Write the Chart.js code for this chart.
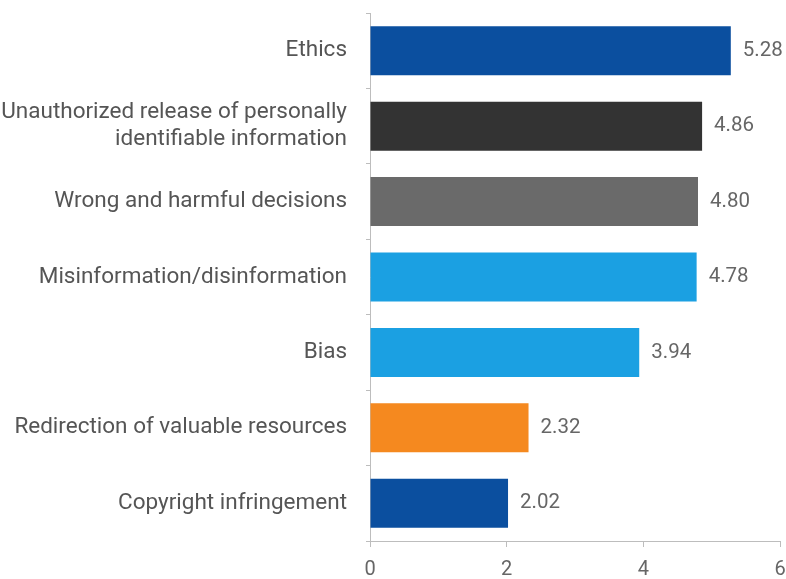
<!DOCTYPE html>
<html>
<head>
<meta charset="utf-8">
<script src="https://cdn.jsdelivr.net/npm/chart.js@4"></script>
<style>
  html, body { margin: 0; padding: 0; background: #fff; }
  #wrap { width: 786px; height: 579px; }
</style>
</head>
<body>
<div id="wrap"><canvas id="graficoRiscos"></canvas></div>
<script>
// categorias (de cima para baixo)
const categorias = [
    'Ethics',
    ['Unauthorized release of personally', 'identifiable information'],
    'Wrong and harmful decisions',
    'Misinformation/disinformation',
    'Bias',
    'Redirection of valuable resources',
    'Copyright infringement'
];
const valores = [5.28, 4.86, 4.80, 4.78, 3.94, 2.32, 2.02];
const cores = ['#0b4f9f', '#333333', '#6a6a6a', '#1ba0e2', '#1ba0e2', '#f5891f', '#0b4f9f'];
const ticksX = [0, 2, 4, 6];

// escreve o valor ao lado de cada barra
const rotuloValores = {
    id: 'rotuloValores',
    afterDatasetsDraw(chart) {
        const ctx = chart.ctx;
        const meta = chart.getDatasetMeta(0);
        ctx.save();
        ctx.font = '20.5px Roboto';
        ctx.fillStyle = '#666666';
        ctx.textAlign = 'left';
        ctx.textBaseline = 'middle';
        meta.data.forEach((bar, i) => {
            ctx.fillText(valores[i].toFixed(2), bar.x + 12, bar.y);
        });
        ctx.restore();
    }
};

document.addEventListener("DOMContentLoaded", () => {
    const ctx = document.getElementById('graficoRiscos').getContext('2d');
    window.graficoRiscos = new Chart(ctx, {
        type: 'bar',
        data: {
            labels: categorias,
            datasets: [{
                data: valores,
                backgroundColor: cores,
                borderWidth: 0,
                categoryPercentage: 1,
                barPercentage: 0.65
            }]
        },
        options: {
            indexAxis: 'y',
            responsive: true,
            maintainAspectRatio: false,
            animation: false,
            layout: { padding: { top: 13, right: 6, left: 0, bottom: 0 } },
            plugins: {
                legend: { display: false },
                tooltip: { enabled: false }
            },
            scales: {
                x: {
                    min: 0,
                    max: 6,
                    afterBuildTicks: (scale) => {
                        scale.ticks = ticksX.map(v => ({ value: v }));
                    },
                    afterFit: (scale) => { scale.height = 38; scale.paddingRight = 0; },
                    border: { color: '#bdbdbd', width: 1 },
                    grid: { drawOnChartArea: false, tickLength: 6, color: '#bdbdbd' },
                    ticks: { color: '#666666', font: { family: 'Roboto', size: 20, lineHeight: 1.2 }, padding: 11 }
                },
                y: {
                    afterFit: (scale) => {
                        scale.width = 370;
                        scale.paddingTop = 0;
                        scale.paddingBottom = 0;
                    },
                    border: { color: '#bdbdbd', width: 1 },
                    grid: { drawOnChartArea: false, tickLength: 4, offset: true, color: '#bdbdbd' },
                    ticks: {
                        color: '#555555',
                        font: { family: 'Roboto', size: 22.5, lineHeight: 1.2 },
                        padding: 19
                    }
                }
            }
        },
        plugins: [rotuloValores]
    });
});
</script>
</body>
</html>
